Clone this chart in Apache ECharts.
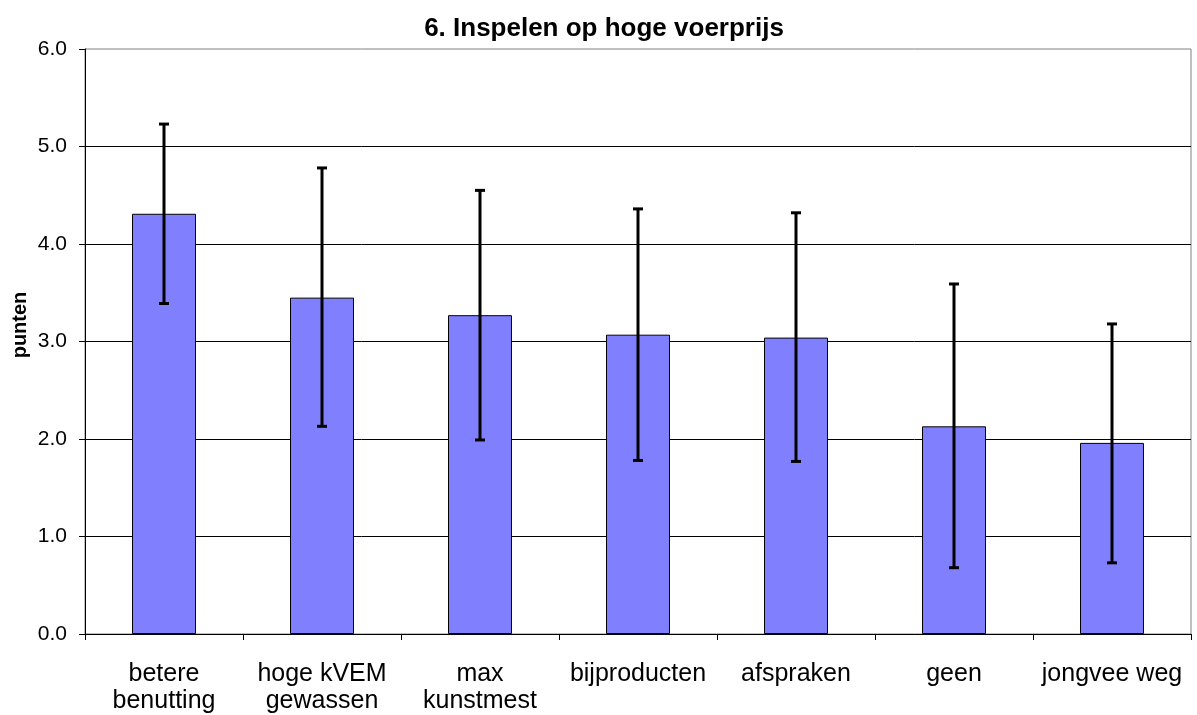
<!DOCTYPE html>
<html>
<head>
<meta charset="utf-8">
<script src="https://cdn.jsdelivr.net/npm/echarts@6/dist/echarts.min.js"></script>
<style>html,body{margin:0;padding:0;background:#fff;}#c{width:1197px;height:715px;}</style>
</head>
<body>
<div id="c"></div>
<script>
const categories = ['betere\nbenutting', 'hoge kVEM\ngewassen', 'max\nkunstmest', 'bijproducten', 'afspraken', 'geen', 'jongvee weg'];
const means = [4.31, 3.45, 3.27, 3.07, 3.04, 2.13, 1.96];
const errLow = [3.39, 2.13, 1.99, 1.78, 1.77, 0.68, 0.73];
const errHigh = [5.23, 4.78, 4.55, 4.36, 4.32, 3.59, 3.18];
const yTicks = [0, 1, 2, 3, 4, 5, 6];
const titleText = '6. Inspelen op hoge voerprijs';
const yAxisTitle = 'punten';

const chart = echarts.init(document.getElementById('c'), null, {renderer: 'canvas'});
const font = 'Liberation Sans, Arial, sans-serif';
chart.setOption({
  animation: false,
  backgroundColor: '#fff',
  title: {
    text: titleText,
    left: 599, top: 11, textAlign: 'center',
    textStyle: {fontFamily: font, fontSize: 26, fontWeight: 'bold', color: '#000'}
  },
  graphic: [{
    type: 'text', x: 20, y: 325, rotation: Math.PI / 2,
    style: {text: yAxisTitle, fontFamily: font, fontSize: 20, fontWeight: 'bold', fill: '#000', align: 'center', verticalAlign: 'middle'}
  }],
  grid: {left: 85, right: 6, top: 49, bottom: 80, show: true, borderColor: '#808080', borderWidth: 1, backgroundColor: 'transparent'},
  xAxis: {
    type: 'category', data: categories,
    axisLine: {lineStyle: {color: '#000', width: 1}},
    axisTick: {show: true, length: 6, alignWithLabel: false, lineStyle: {color: '#000'}},
    axisLabel: {fontFamily: font, fontSize: 25, color: '#000', margin: 27, lineHeight: 27, interval: 0}
  },
  yAxis: {
    type: 'value', min: yTicks[0], max: yTicks[yTicks.length - 1], interval: 1,
    axisLine: {show: true, lineStyle: {color: '#000', width: 1}},
    axisTick: {show: true, length: 6, lineStyle: {color: '#000'}},
    axisLabel: {fontFamily: font, fontSize: 21, color: '#000', margin: 18, formatter: v => v.toFixed(1)},
    splitLine: {showMaxLine: false, lineStyle: {color: '#000', width: 1}}
  },
  series: [
    {
      type: 'bar', data: means, barWidth: '40.5%',
      itemStyle: {color: '#8080FF', borderColor: '#000', borderWidth: 1}
    },
    {
      type: 'custom',
      data: categories.map((c, i) => [i, errLow[i], errHigh[i]]),
      encode: {x: 0, y: [1, 2]},
      z: 10,
      renderItem: function (params, api) {
        const x = api.value(0);
        const lo = api.coord([x, api.value(1)]);
        const hi = api.coord([x, api.value(2)]);
        const hw = 5;
        const st = {stroke: '#000', lineWidth: 3};
        return {
          type: 'group',
          children: [
            {type: 'line', shape: {x1: hi[0], y1: hi[1], x2: lo[0], y2: lo[1]}, style: st},
            {type: 'line', shape: {x1: hi[0] - hw, y1: hi[1], x2: hi[0] + hw, y2: hi[1]}, style: st},
            {type: 'line', shape: {x1: lo[0] - hw, y1: lo[1], x2: lo[0] + hw, y2: lo[1]}, style: st}
          ]
        };
      }
    }
  ]
});
</script>
</body>
</html>
